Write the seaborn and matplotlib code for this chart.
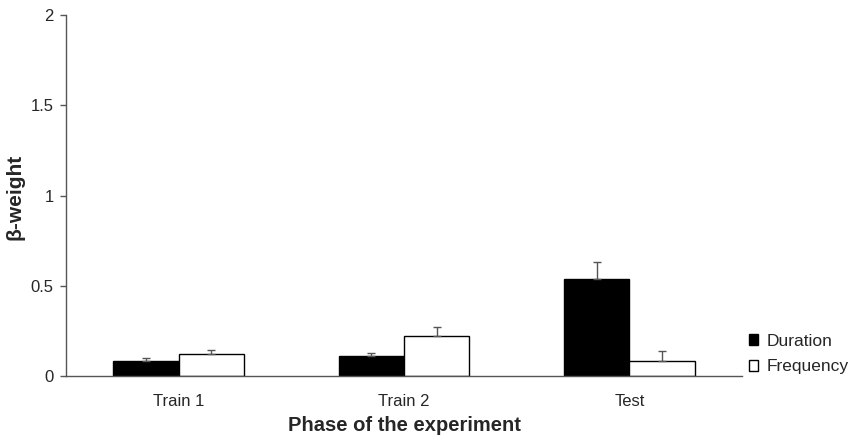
import matplotlib
matplotlib.use("Agg")
import matplotlib.pyplot as plt
import seaborn as sns
import pandas as pd
from matplotlib.ticker import FuncFormatter

phases = ["Train 1", "Train 2", "Test"]
duration = [0.085, 0.11, 0.54]
frequency = [0.12, 0.22, 0.085]
duration_err = [0.015, 0.02, 0.09]
frequency_err = [0.025, 0.05, 0.055]
series = ["Duration", "Frequency"]

df = pd.DataFrame({
    "phase": phases * 2,
    "value": duration + frequency,
    "series": [series[0]] * 3 + [series[1]] * 3,
})

sns.set_theme(style="white")
plt.rcParams["font.family"] = ["Liberation Sans", "DejaVu Sans"]

fig = plt.figure(figsize=(8.52, 4.36), dpi=100)
ax = fig.add_axes([0.0775, 0.1376, 0.7935, 0.828])

sns.barplot(data=df, x="phase", y="value", hue="series", order=phases,
            hue_order=series, palette=["black", "white"], width=0.58,
            edgecolor="black", linewidth=1.0, errorbar=None, ax=ax,
            saturation=1)

errs = duration_err + frequency_err
for patch, e in zip(ax.patches[:6], errs):
    xc = patch.get_x() + patch.get_width() / 2
    h = patch.get_height()
    ax.errorbar([xc], [h], yerr=[[0], [e]], fmt="none", ecolor="#555555",
                elinewidth=1, capsize=3, capthick=1)

ax.set_ylim(0, 2)
ax.set_xlim(-0.5, 2.5)
ax.set_yticks([0, 0.5, 1, 1.5, 2])
ax.yaxis.set_major_formatter(FuncFormatter(lambda v, p: f"{v:g}"))
ax.set_xticks([0.5, 1.5], minor=True)
ax.tick_params(axis="x", which="major", length=0, labelsize=12, pad=13)
ax.tick_params(axis="x", which="minor", length=5, width=1, color="#555555", direction="out")
ax.tick_params(axis="y", length=4, width=1, color="#555555", direction="out", labelsize=12, left=True, pad=5)

for s in ["top", "right"]:
    ax.spines[s].set_visible(False)
ax.spines["left"].set_color("#555555")
ax.spines["bottom"].set_color("#555555")
ax.spines["left"].set_linewidth(1)
ax.spines["bottom"].set_linewidth(1)

ax.set_xlabel("Phase of the experiment", fontsize=14.5, fontweight="bold")
ax.xaxis.set_label_coords(0.5, -0.11)
ax.set_ylabel("β-weight", fontsize=15, fontweight="bold")
ax.yaxis.set_label_coords(-0.061, 0.497)

leg = ax.legend(loc="center left", bbox_to_anchor=(0.879, 0.188),
                bbox_transform=fig.transFigure, frameon=False,
                fontsize=12.5, handlelength=0.55, handleheight=0.55,
                handletextpad=0.45, labelspacing=0.62, borderaxespad=0,
                borderpad=0)

fig.savefig("out.png", dpi=100)
